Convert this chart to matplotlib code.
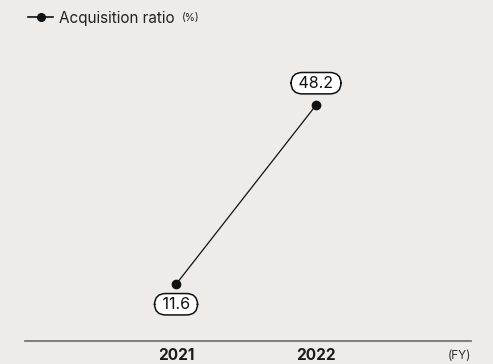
import matplotlib.pyplot as plt
from matplotlib.lines import Line2D

# acquisition ratio by fiscal year
years = ["2021", "2022"]
ratio = [11.6, 48.2]

bg = "#eeebe9"
plt.rcParams["font.family"] = ["Inter", "DejaVu Sans"]

fig = plt.figure(figsize=(4.93, 3.64), dpi=100, facecolor=bg)
ax = fig.add_axes([25 / 493, 23 / 364, 446 / 493, 341 / 364])
ax.set_facecolor(bg)

x = list(range(len(years)))
ax.plot(x, ratio, color="#111111", lw=0.9, marker="o", ms=6, zorder=3)

# value labels in pill boxes, below the first point, above the second
offsets = [-20, 22]
for xi, v, off in zip(x, ratio, offsets):
    ax.annotate(f" {v:.1f} ", (xi, v), xytext=(0, off * 0.72), textcoords="offset points",
                ha="center", va="center", fontsize=11.5, color="#111111",
                bbox=dict(boxstyle="round,pad=0.2,rounding_size=0.7",
                          fc="white", ec="#111111", lw=1.1))

ax.set_xlim(-1.079, 2.107)
ax.set_ylim(0, 69.7)
ax.set_xticks(x)
ax.set_xticklabels(years, fontsize=11, fontweight="bold", color="#1a1a1a")
ax.tick_params(axis="x", length=0, pad=5)
ax.set_yticks([])
for s in ["top", "right", "left"]:
    ax.spines[s].set_visible(False)
ax.spines["bottom"].set_color("#777777")
ax.spines["bottom"].set_linewidth(1.3)

ax.text(1.0, -0.045, "(FY)", transform=ax.transAxes, ha="right", va="center",
        fontsize=8.5, color="#333333")

# legend drawn by hand at top left
ly = 1 - 17 / 364
fig.add_artist(Line2D([28 / 493, 53 / 493], [ly, ly], color="#111111", lw=1.2,
                      transform=fig.transFigure))
fig.add_artist(Line2D([40.5 / 493], [ly], color="#111111", marker="o", ms=5.5,
                      transform=fig.transFigure))
fig.text(59 / 493, 1 - 18 / 364, "Acquisition ratio", fontsize=11, color="#222222",
         ha="left", va="center")
fig.text(182 / 493, 1 - 18 / 364, "(%)", fontsize=7.5, color="#222222",
         ha="left", va="center")

fig.savefig("out.png", dpi=100, facecolor=bg)
